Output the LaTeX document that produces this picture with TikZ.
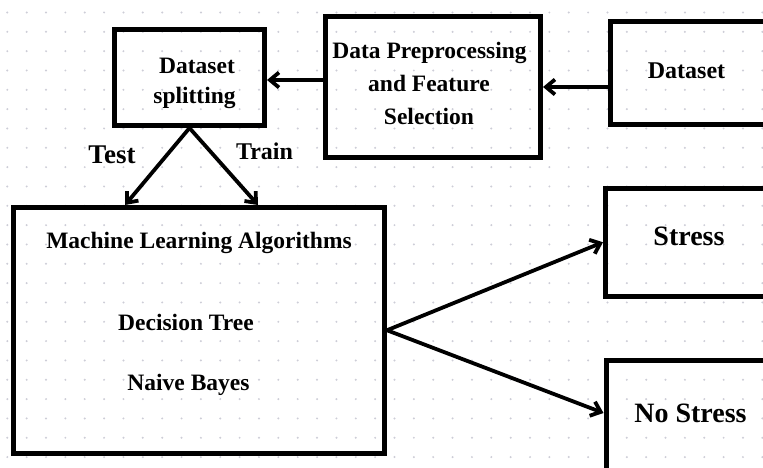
\documentclass[tikz,border=0pt]{standalone}
\usepackage{fontspec}
\setmainfont{Liberation Serif}
\usetikzlibrary{arrows.meta}
\definecolor{gridgray}{RGB}{205,205,215}
\tikzset{
  box/.style={draw=black, line width=5pt, rectangle, inner sep=0pt},
  arr/.style={draw=black, line width=3.8pt, -{Straight Barb[length=9pt,width=15pt]}},
  lbl/.style={anchor=base, inner sep=0pt, font=\bfseries\fontsize{23.5}{28}\selectfont},
  biglbl/.style={lbl, font=\bfseries\fontsize{28}{32}\selectfont}
}
\begin{document}
\begin{tikzpicture}[x=1pt,y=-1pt]
  \useasboundingbox (0,0) rectangle (763,468);
  \clip (0,0) rectangle (763,468);
  \fill[white] (0,0) rectangle (763,468);
  % dotted background grid
  \foreach \i in {0,...,39} {
    \foreach \j in {0,...,24} {
      \fill[gridgray] ({7.3+19.36*\i},{12.5+19.33*\j}) circle (1.1);
    }
  }
  % boxes
  \node[box, minimum width=150pt, minimum height=96pt] (split) at (189.5,77.5) {};
  \node[box, minimum width=215pt, minimum height=141pt] (prep) at (433,87) {};
  \node[box, minimum width=189.5pt, minimum height=103pt] (data) at (705.25,73) {};
  \node[box, minimum width=371pt, minimum height=245.5pt] (ml) at (199,330.25) {};
  \node[box, minimum width=194.5pt, minimum height=107.5pt] (stress) at (702.75,242.25) {};
  \node[box, minimum width=194pt, minimum height=159.5pt] (nostress) at (703,440.25) {};
  % texts
  \node[lbl] (split1) at (197,74) {Dataset};
  \node[lbl] (split2) at (194.5,104) {splitting};
  \node[lbl] (prep1) at (429.5,58.3) {Data Preprocessing};
  \node[lbl] (prep2) at (429,91.7) {and Feature};
  \node[lbl] (prep3) at (429,125) {Selection};
  \node[lbl, font=\bfseries\fontsize{24}{28}\selectfont] (datat) at (686.5,78.3) {Dataset};
  \node[lbl] (ml1) at (199,248.3) {Machine Learning Algorithms};
  \node[lbl] (ml2) at (186,330) {Decision Tree};
  \node[lbl] (ml3) at (188.5,390) {Naive Bayes};
  \node[biglbl] (stresst) at (689,245) {Stress};
  \node[biglbl] (nostresst) at (690.5,422.7) {No Stress};
  \node[lbl, font=\bfseries\fontsize{27}{30}\selectfont] (testt) at (112,163.3) {Test};
  \node[lbl, font=\bfseries\fontsize{24}{28}\selectfont] (traint) at (264.5,159.3) {Train};
  % connector end points
  \coordinate (testtip) at (125,205);
  \coordinate (traintip) at (258,205);
  \coordinate (nsin) at (603.5,413);
  % connectors
  \draw[arr] (prep.east -| data.west) -- (prep.east);
  \draw[arr] (prep.west |- 0,80) -- (split.east |- 0,80);
  \draw[arr] (split.south) -- (testtip);
  \draw[arr] (split.south) -- (traintip);
  \draw[arr] (ml.east) -- (stress.west);
  \draw[arr] (ml.east) -- (nsin);
\end{tikzpicture}
\end{document}
